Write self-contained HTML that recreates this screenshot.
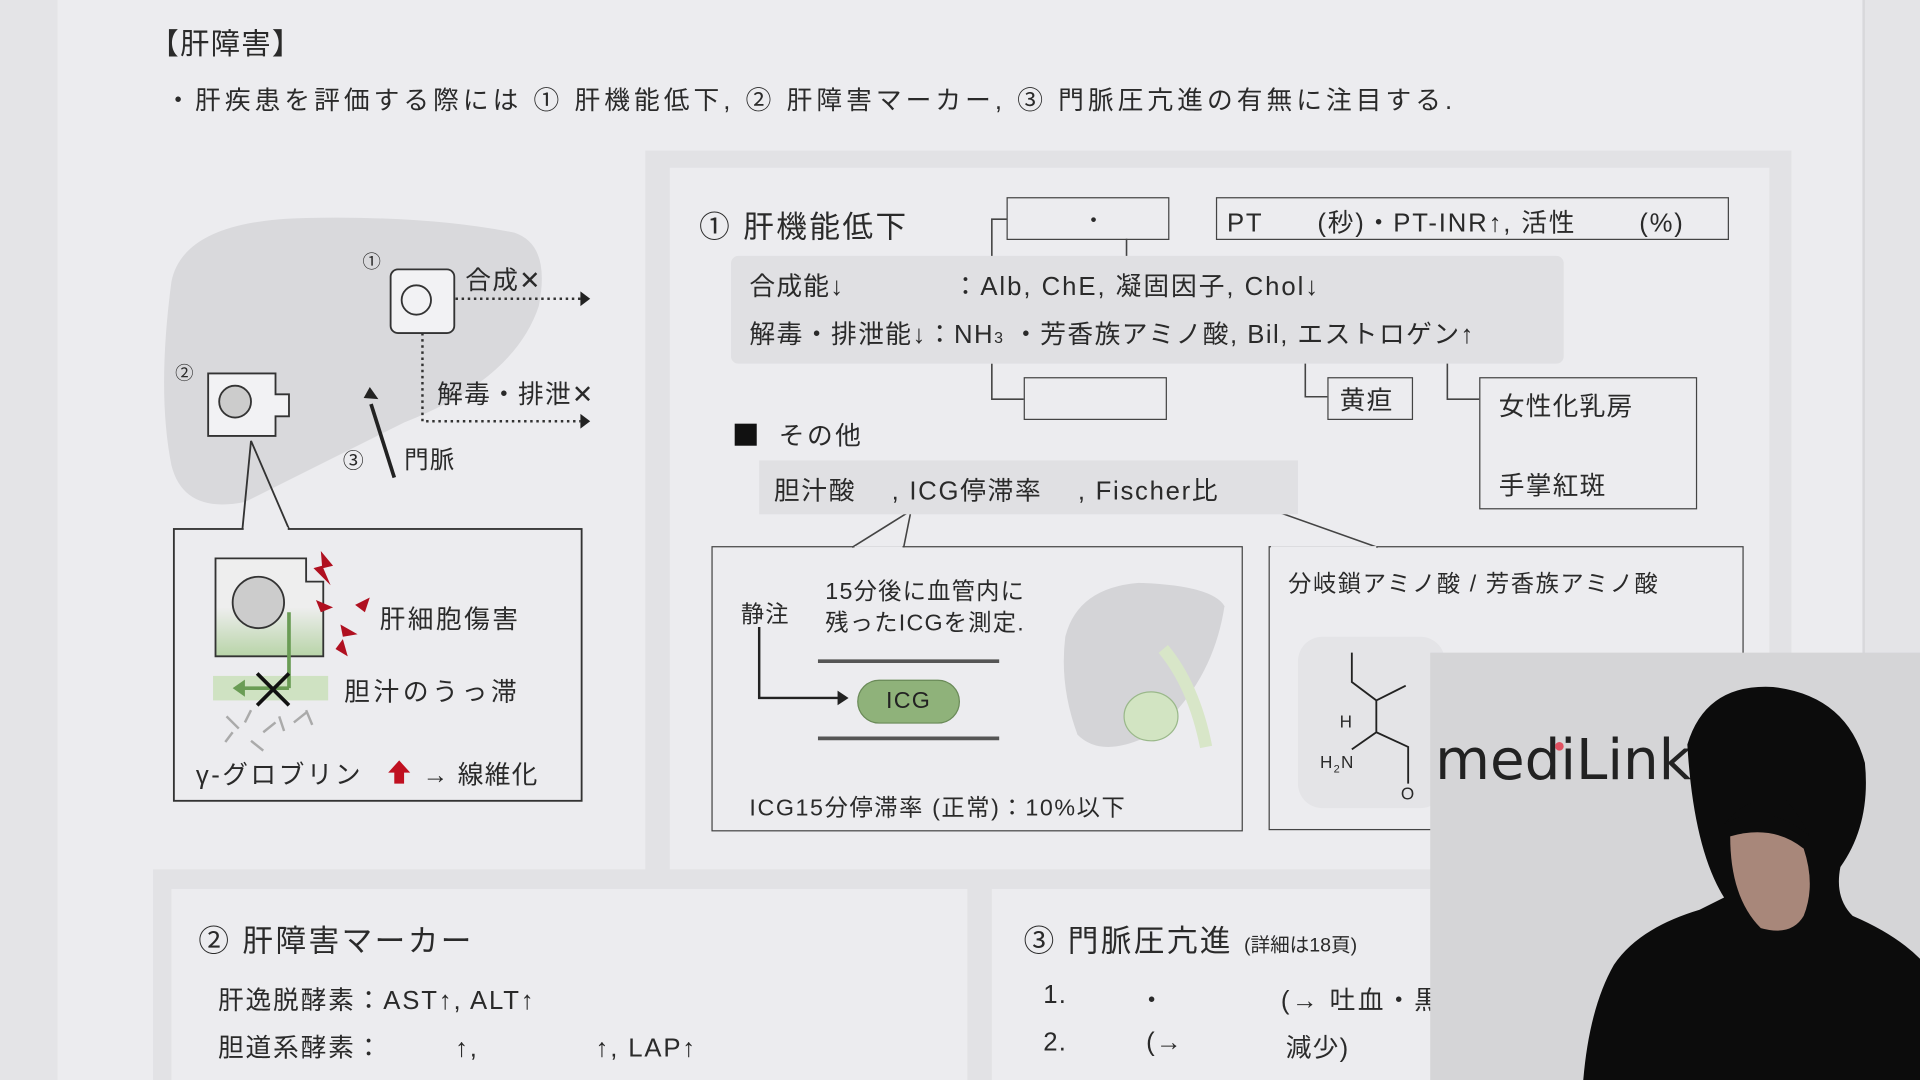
<!DOCTYPE html>
<html><head><meta charset="utf-8">
<style>
html,body{margin:0;padding:0;width:1920px;height:1080px;overflow:hidden;background:#e4e4e7}
#w{position:absolute;left:0;top:0;width:1568px;height:882px;transform:scale(1.22449);transform-origin:0 0;font-family:"Liberation Sans","Noto Sans CJK JP",sans-serif;color:#2a2a2a;letter-spacing:1px}
.a{position:absolute;white-space:nowrap}
.box{position:absolute;border:1.5px solid #444;box-sizing:border-box}
</style></head><body><div id="w">
<div class="a" style="left:47px;top:0;width:1474px;height:882px;background:#ececef"></div>
<div class="a" style="left:1521px;top:0;width:2px;height:882px;background:#d8d8db"></div>
<div class="a" style="left:122px;top:16px;font-size:24px">【肝障害】</div>
<div class="a" style="left:135px;top:66px;font-size:21px;letter-spacing:3.3px">・肝疾患を評価する際には ① 肝機能低下, ② 肝障害マーカー, ③ 門脈圧亢進の有無に注目する.</div>

<div class="a" style="left:527px;top:123px;width:936px;height:590px;background:#e2e2e5"></div>
<div class="a" style="left:547px;top:137px;width:898px;height:576px;background:#ececef"></div>
<div class="a" style="left:125px;top:710px;width:1340px;height:172px;background:#e2e2e5"></div>
<div class="a" style="left:140px;top:726px;width:650px;height:156px;background:#ececef"></div>
<div class="a" style="left:810px;top:726px;width:640px;height:156px;background:#ececef"></div>

<svg class="a" style="left:0;top:0" width="1568" height="882">
<path d="M140 230 Q150 180 250 178 Q350 176 420 190 Q450 200 440 250 Q420 310 330 345 Q260 380 200 410 Q150 420 140 380 Q128 320 140 230Z" fill="#d9d9dc"/>
<rect x="319" y="220" width="52" height="52" rx="6" fill="#f2f2f4" stroke="#333" stroke-width="1.5"/>
<circle cx="340" cy="245" r="12" fill="none" stroke="#333" stroke-width="1.5"/>
<line x1="372" y1="244" x2="474" y2="244" stroke="#333" stroke-width="2" stroke-dasharray="2 3"/>
<polygon points="474,238 482,244 474,250" fill="#222"/>
<path d="M345 272 L345 344 L474 344" fill="none" stroke="#333" stroke-width="2" stroke-dasharray="2 3"/>
<polygon points="474,338 482,344 474,350" fill="#222"/>
<path d="M170 305 L225 305 L225 322 L236 322 L236 340 L225 340 L225 356 L170 356Z" fill="#f2f2f4" stroke="#333" stroke-width="1.5"/>
<circle cx="192" cy="328" r="13" fill="#ccc" stroke="#333" stroke-width="1.5"/>
<line x1="322" y1="390" x2="303" y2="330" stroke="#222" stroke-width="3"/>
<polygon points="297,325 302,316 309,326" fill="#222"/>
<path d="M205 360 L198 432 M205 360 L236 432" stroke="#333" stroke-width="1.5"/>
<rect x="142" y="432" width="333" height="222" fill="#ececef" stroke="#333" stroke-width="1.5"/>
<line x1="199" y1="432" x2="235" y2="432" stroke="#ececef" stroke-width="3"/>
<defs><linearGradient id="g" x1="0" y1="0" x2="0" y2="1"><stop offset="0.5" stop-color="#eee"/><stop offset="1" stop-color="#b8d4a8"/></linearGradient></defs>
<path d="M176 456 L250 456 L250 475 L264 475 L264 536 L176 536Z" fill="url(#g)" stroke="#333" stroke-width="1.5"/>
<circle cx="211" cy="492" r="21" fill="#ccc" stroke="#333" stroke-width="1.5"/>
<rect x="174" y="552" width="94" height="20" fill="#cfe2c2"/>
<line x1="236" y1="500" x2="236" y2="562" stroke="#6a9c55" stroke-width="3"/>
<line x1="236" y1="562" x2="198" y2="562" stroke="#6a9c55" stroke-width="3"/>
<polygon points="200,555 190,562 200,569" fill="#6a9c55"/>
<path d="M210 550 L236 576 M236 550 L210 576" stroke="#111" stroke-width="3"/>
<path d="M262 450 L272 462 L264 464 L270 478 L256 464 L263 462Z" fill="#b01020"/>
<path d="M258 490 l14 6 l-10 4z M290 494 l12 -6 l-4 12z M278 510 l14 8 l-12 2z M280 522 l4 14 l-10 -6z" fill="#b01020"/>
<path d="M185 585 l10 10 M200 590 l5 -10 M215 598 l10 -8 M228 585 l4 12 M240 590 l10 -8 M250 580 l5 12 M205 605 l10 8 M190 598 l-6 8" stroke="#aaa" stroke-width="2"/>
<path d="M326 621 L335 631 L330 631 L330 640 L322 640 L322 631 L317 631Z" fill="#c01020"/>

<path d="M822 179 L810 179 L810 213 M920 195 L920 213 M1066 283 L1066 324 L1084 324 M1182 283 L1182 326 L1208 326 M810 297 L810 326 L836 326" fill="none" stroke="#444" stroke-width="1.3"/>
<path d="M696 447 L744 417 L738 447 M1032 414 L1125 447" fill="none" stroke="#444" stroke-width="1.3"/>
<path d="M620 512 L620 570 L688 570" fill="none" stroke="#222" stroke-width="2"/>
<polygon points="684,564 693,570 684,576" fill="#222"/>
<line x1="668" y1="540" x2="816" y2="540" stroke="#555" stroke-width="3"/>
<line x1="668" y1="603" x2="816" y2="603" stroke="#555" stroke-width="3"/>
<path d="M870 520 Q880 480 930 476 Q990 478 1000 495 Q990 560 940 600 Q900 620 880 600 Q865 560 870 520Z" fill="#d4d4d7"/>
<path d="M950 530 Q975 560 985 610" stroke="#d8e6c8" stroke-width="10" fill="none"/>
<ellipse cx="940" cy="585" rx="22" ry="20" fill="#d2e4c2" stroke="#9ab88a"/>
<rect x="1060" y="520" width="120" height="140" rx="20" fill="#e4e4e7"/>
<path d="M1104 533 L1104 557 L1124 572 L1148 560 M1124 572 L1124 598 L1104 612 M1124 598 L1150 610 L1150 640" fill="none" stroke="#222" stroke-width="1.5"/>
</svg>

<div class="a" style="left:296px;top:203px;font-size:15px">①</div>
<div class="a" style="left:380px;top:213px;font-size:21px">合成✕</div>
<div class="a" style="left:143px;top:294px;font-size:15px">②</div>
<div class="a" style="left:357px;top:306px;font-size:21px">解毒・排泄✕</div>
<div class="a" style="left:280px;top:362px;font-size:17px">③</div>
<div class="a" style="left:330px;top:359px;font-size:20px">門脈</div>
<div class="a" style="left:310px;top:490px;font-size:21px;letter-spacing:2px">肝細胞傷害</div>
<div class="a" style="left:281px;top:549px;font-size:21px;letter-spacing:3px">胆汁のうっ滞</div>
<div class="a" style="left:160px;top:617px;font-size:21px;letter-spacing:2px">γ-グロブリン</div>
<div class="a" style="left:345px;top:617px;font-size:21px">→ 線維化</div>

<div class="a" style="left:571px;top:166px;font-size:25px;letter-spacing:2px">① 肝機能低下</div>
<div class="box" style="left:822px;top:161px;width:133px;height:35px"></div>
<div class="a" style="left:884px;top:166px;font-size:18px">・</div>
<div class="box" style="left:993px;top:161px;width:419px;height:35px"></div>
<div class="a" style="left:1002px;top:166px;font-size:21px;letter-spacing:1.5px">PT&nbsp;&nbsp;&nbsp;&nbsp;&nbsp;&nbsp;(秒)・PT-INR↑, 活性&nbsp;&nbsp;&nbsp;&nbsp;&nbsp;&nbsp;&nbsp;(%)</div>
<div class="a" style="left:597px;top:209px;width:680px;height:88px;background:#e0e0e3;border-radius:6px"></div>
<div class="a" style="left:612px;top:218px;font-size:21px">合成能↓</div>
<div class="a" style="left:778px;top:218px;font-size:21px;letter-spacing:1.6px">：Alb, ChE, 凝固因子, Chol↓</div>
<div class="a" style="left:612px;top:257px;font-size:21px;letter-spacing:1.2px">解毒・排泄能↓：NH<span style="font-size:13px">3</span> ・芳香族アミノ酸, Bil, エストロゲン↑</div>
<div class="box" style="left:836px;top:308px;width:117px;height:35px"></div>
<div class="box" style="left:1084px;top:308px;width:70px;height:35px"></div>
<div class="a" style="left:1094px;top:311px;font-size:21px">黄疸</div>
<div class="box" style="left:1208px;top:308px;width:178px;height:108px"></div>
<div class="a" style="left:1224px;top:316px;font-size:21px">女性化乳房</div>
<div class="a" style="left:1224px;top:381px;font-size:21px">手掌紅斑</div>
<div class="a" style="left:600px;top:346px;width:18px;height:18px;background:#111"></div>
<div class="a" style="left:636px;top:340px;font-size:21px;letter-spacing:2px">その他</div>
<div class="a" style="left:620px;top:376px;width:440px;height:44px;background:#e0e0e3"></div>
<div class="a" style="left:632px;top:385px;font-size:21px;letter-spacing:1.4px">胆汁酸&nbsp;&nbsp;&nbsp;&nbsp;, ICG停滞率&nbsp;&nbsp;&nbsp;&nbsp;, Fischer比</div>
<div class="box" style="left:581px;top:446px;width:434px;height:233px"></div>
<div class="a" style="left:698px;top:446px;width:39px;height:2px;background:#ececef"></div>
<div class="a" style="left:605px;top:487px;font-size:19px">静注</div>
<div class="a" style="left:674px;top:471px;font-size:19px;line-height:26px">15分後に血管内に<br>残ったICGを測定.</div>
<div class="a" style="left:700px;top:555px;width:84px;height:36px;border-radius:18px;background:#8fb27a;border:1px solid #6a8a58;box-sizing:border-box;text-align:center;line-height:34px;font-size:19px;color:#222">ICG</div>
<div class="a" style="left:612px;top:645px;font-size:19px;letter-spacing:1.3px">ICG15分停滞率 (正常)：10%以下</div>
<div class="box" style="left:1036px;top:446px;width:388px;height:232px"></div>
<div class="a" style="left:1038px;top:446px;width:86px;height:2px;background:#ececef"></div>
<div class="a" style="left:1052px;top:462px;font-size:19px;letter-spacing:1.3px">分岐鎖アミノ酸 / 芳香族アミノ酸</div>
<div class="a" style="left:1094px;top:581px;font-size:14px">H</div>
<div class="a" style="left:1078px;top:614px;font-size:14px">H<sub style="font-size:9px">2</sub>N</div>
<div class="a" style="left:1144px;top:640px;font-size:14px">O</div>

<div class="a" style="left:162px;top:749px;font-size:25px;letter-spacing:2px">② 肝障害マーカー</div>
<div class="a" style="left:178px;top:801px;font-size:21px;letter-spacing:1.5px">肝逸脱酵素：AST↑, ALT↑</div>
<div class="a" style="left:178px;top:840px;font-size:21px;letter-spacing:1.5px">胆道系酵素：&nbsp;&nbsp;&nbsp;&nbsp;&nbsp;&nbsp;&nbsp;&nbsp;↑,&nbsp;&nbsp;&nbsp;&nbsp;&nbsp;&nbsp;&nbsp;&nbsp;&nbsp;&nbsp;&nbsp;&nbsp;&nbsp;↑, LAP↑</div>
<div class="a" style="left:836px;top:749px;font-size:25px;letter-spacing:2px">③ 門脈圧亢進 <span style="font-size:16px;letter-spacing:0">(詳細は18頁)</span></div>
<div class="a" style="left:852px;top:801px;font-size:21px">1.</div>
<div class="a" style="left:930px;top:801px;font-size:21px">・</div>
<div class="a" style="left:1046px;top:801px;font-size:21px;letter-spacing:2px">(→ 吐血・黒</div>
<div class="a" style="left:852px;top:840px;font-size:21px">2.</div>
<div class="a" style="left:936px;top:840px;font-size:21px">(→</div>
<div class="a" style="left:1050px;top:840px;font-size:21px">減少)</div>

<div class="a" style="left:1168px;top:533px;width:400px;height:349px;background:#d5d5d7;overflow:hidden">
<div class="a" style="left:4px;top:60px;font-size:46px;color:#222;letter-spacing:0;font-family:'DejaVu Sans',sans-serif">mediLink</div>
<div class="a" style="left:102px;top:73px;width:7px;height:7px;border-radius:50%;background:#e05060"></div>
<svg class="a" style="left:0;top:0" width="400" height="349">
<path d="M210 75 Q225 25 280 28 Q340 35 355 90 Q360 140 335 175 Q330 200 345 215 Q380 230 400 250 L400 349 L125 349 Q130 290 150 255 Q170 225 220 210 L240 200 Q215 160 210 75Z" fill="#0c0c0c"/>
<path d="M245 150 Q245 200 270 225 Q295 232 305 215 Q315 190 305 160 Q280 140 245 150Z" fill="#a8877a"/>
<path d="M240 140 Q275 120 310 150 Q300 130 290 120 Q260 115 240 140Z" fill="#0c0c0c"/>
</svg>
</div>
</div></body></html>
